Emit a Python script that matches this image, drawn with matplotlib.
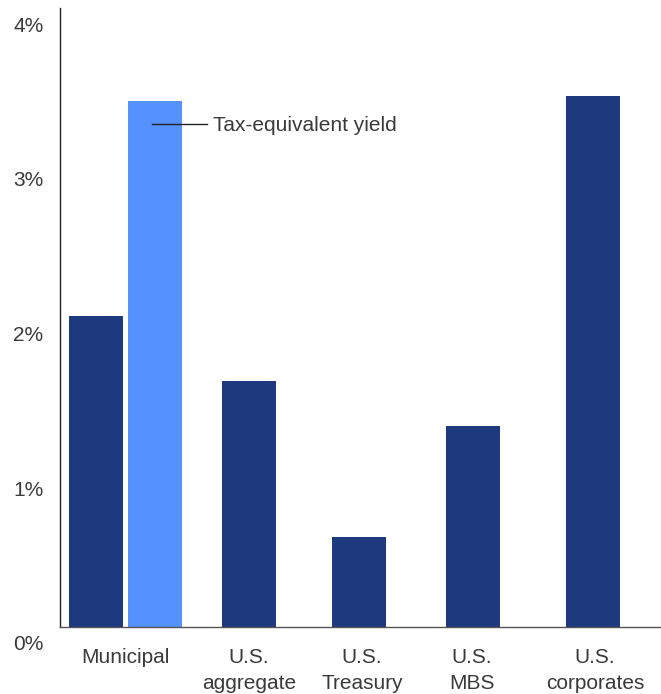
import numpy as np
import matplotlib.pyplot as plt
import matplotlib.transforms as mtransforms

# yields by sector, %
sectors = ['Municipal', 'U.S.\naggregate', 'U.S.\nTreasury', 'U.S.\nMBS', 'U.S.\ncorporates']
yields = [2.01, 1.59, 0.58, 1.30, 3.43]
muni_tax_equiv = 3.40
tey_label = 'Tax-equivalent yield'

yticks = [0, 1, 2, 3, 4]
ytick_labels = ['0%', '1%', '2%', '3%', '4%']

# layout (x in pixel-like units)
bar_x = [36, 189, 299, 413, 533]
tey_x = 95
label_x = [65.5, 189, 302, 412, 535]
bar_w = 54

navy = '#1d3a7e'
light = '#5591ff'
text_c = '#3a3a3a'

plt.rcParams['font.family'] = ['Liberation Sans', 'DejaVu Sans']

fig = plt.figure(figsize=(6.61, 6.94), dpi=100)
ax = fig.add_axes([60 / 661, 67 / 694, 601 / 661, 619 / 694])

ax.bar(bar_x, yields, width=bar_w, color=navy)
ax.bar(tey_x, muni_tax_equiv, width=bar_w, color=light)

# callout for the tax-equivalent bar
ax.plot([92, 147], [3.25, 3.25], color='#222222', lw=1.0)
ax.text(153, 3.24, tey_label, fontsize=15, color=text_c, va='center', ha='left')

ax.set_xlim(0, 601)
ax.set_ylim(0, 4)

ax.set_yticks(yticks)
ax.set_yticklabels(ytick_labels, fontsize=15, color=text_c)
ax.set_xticks(label_x)
ax.set_xticklabels(sectors, fontsize=15, color=text_c, linespacing=1.45)
ax.tick_params(axis='both', length=0)
ax.tick_params(axis='y', pad=12)
ax.tick_params(axis='x', pad=15)

# y labels sit a little below their values
offset = mtransforms.ScaledTranslation(0, -16 / 100, fig.dpi_scale_trans)
for lab in ax.get_yticklabels():
    lab.set_transform(lab.get_transform() + offset)

for side in ['top', 'right']:
    ax.spines[side].set_visible(False)
ax.spines['left'].set_color('#222222')
ax.spines['left'].set_linewidth(1.0)
ax.spines['bottom'].set_color('#555555')
ax.spines['bottom'].set_linewidth(1.0)

fig.savefig('out.png', dpi=100)
